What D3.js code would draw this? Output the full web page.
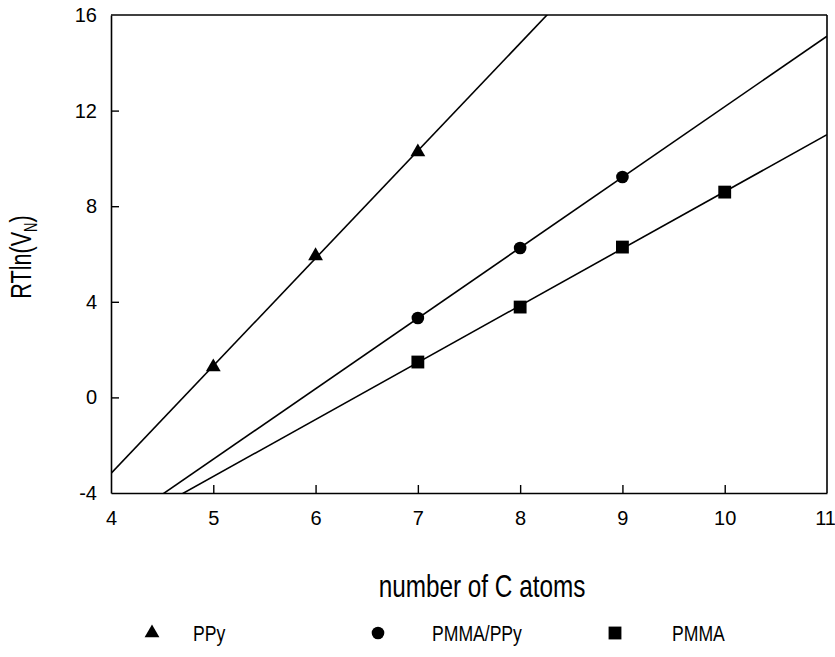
<!DOCTYPE html>
<html><head><meta charset="utf-8">
<script src="https://cdn.jsdelivr.net/npm/d3@7"></script>
<style>body{margin:0;background:#fff}text{font-family:"Liberation Sans",Arial,sans-serif;fill:#000}</style>
</head><body>
<svg id="c" width="835" height="657"></svg>
<script>
const xTicks = [4,5,6,7,8,9,10,11];
const yTicks = [-4,0,4,8,12,16];
const ppyX = [5,6,7];
const ppyY = [1.27,5.92,10.27];
const pmmaPpyX = [7,8,9];
const pmmaPpyY = [3.32,6.25,9.22];
const pmmaX = [7,8,9,10];
const pmmaY = [1.48,3.78,6.29,8.59];
const seriesNames = ["PPy","PMMA/PPy","PMMA"];

const svg = d3.select("#c");
const x = d3.scaleLinear().domain([4,11]).range([111,827]);
const y = d3.scaleLinear().domain([-4,16]).range([493,15]);

function fit(xs, ys){
  const mx=d3.mean(xs), my=d3.mean(ys);
  let num=0, den=0;
  xs.forEach((v,i)=>{num+=(v-mx)*(ys[i]-my); den+=(v-mx)*(v-mx);});
  const b=num/den; return {b, a:my-b*mx};
}

svg.append("clipPath").attr("id","clip").append("rect")
  .attr("x",x(4)).attr("y",y(16)).attr("width",x(11)-x(4)).attr("height",y(-4)-y(16));

// axes
const gx = svg.append("g").attr("transform",`translate(0,${y(-4)})`)
  .call(d3.axisBottom(x).tickValues(xTicks).tickSizeInner(-8).tickSizeOuter(0).tickPadding(18).tickFormat(d=>String(d)));
const gy = svg.append("g").attr("transform",`translate(${x(4)},0)`)
  .call(d3.axisLeft(y).tickValues(yTicks).tickSizeInner(-8).tickSizeOuter(0).tickPadding(14).tickFormat(d=>String(d)));
[gx,gy].forEach(g=>{
  g.select(".domain").attr("stroke","#000").attr("stroke-width",1.6);
  g.selectAll(".tick line").attr("stroke","#000").attr("stroke-width",1.4);
  g.selectAll(".tick text").attr("font-size",20).attr("font-family","Liberation Sans, Arial, sans-serif").attr("fill","#000");
});
gx.selectAll(".tick").filter(d=>d===4||d===11).select("line").remove();
gx.selectAll(".tick").filter(d=>d===11).select("text").attr("dx",-2);
gy.selectAll(".tick").filter(d=>d===-4||d===16).select("line").remove();
// top and right borders
svg.append("line").attr("x1",x(4)).attr("x2",x(11)).attr("y1",y(16)).attr("y2",y(16)).attr("stroke","#000").attr("stroke-width",1.6);
svg.append("line").attr("x1",x(11)).attr("x2",x(11)).attr("y1",y(16)).attr("y2",y(-4)).attr("stroke","#000").attr("stroke-width",1.6);

// regression lines
const lineGen = d3.line().x(d=>x(d[0])).y(d=>y(d[1]));
[[ppyX,ppyY],[pmmaPpyX,pmmaPpyY],[pmmaX,pmmaY]].forEach(([xs,ys])=>{
  const f=fit(xs,ys);
  svg.append("path").attr("clip-path","url(#clip)")
    .attr("d",lineGen([[4,f.a+f.b*4],[11,f.a+f.b*11]]))
    .attr("fill","none").attr("stroke","#000").attr("stroke-width",1.6);
});

const tri = d3.symbol().type(d3.symbolTriangle).size(95);
const cir = d3.symbol().type(d3.symbolCircle).size(125);
const sq = d3.symbol().type(d3.symbolSquare).size(165);

function pts(xs,ys,sym){
  svg.append("g").selectAll("path").data(xs.map((v,i)=>[v,ys[i]])).join("path")
    .attr("d",sym).attr("transform",d=>`translate(${x(d[0])},${y(d[1])})`).attr("fill","#000");
}
pts(ppyX,ppyY,tri);
pts(pmmaPpyX,pmmaPpyY,cir);
pts(pmmaX,pmmaY,sq);

// axis titles (condensed look)
svg.append("text").attr("transform","translate(482,597) scale(0.76,1)")
  .attr("text-anchor","middle").attr("font-size",32).text("number of C atoms");
const yl = svg.append("text").attr("transform","translate(31,257) rotate(-90) scale(0.72,1)")
  .attr("text-anchor","middle").attr("font-size",30);
yl.append("tspan").text("RTln(V");
yl.append("tspan").attr("font-size",18).attr("dy",6).text("N");
yl.append("tspan").attr("dy",-6).text(")");

// legend
const legSyms=[tri,cir,sq];
const legSymX=[152,378,615], legTextX=[193,432,672];
seriesNames.forEach((n,i)=>{
  svg.append("path").attr("d",legSyms[i]).attr("transform",`translate(${legSymX[i]},633)`).attr("fill","#000");
  svg.append("text").attr("transform",`translate(${legTextX[i]},641) scale(0.8,1)`).attr("font-size",22).text(n);
});
</script>
</body></html>
